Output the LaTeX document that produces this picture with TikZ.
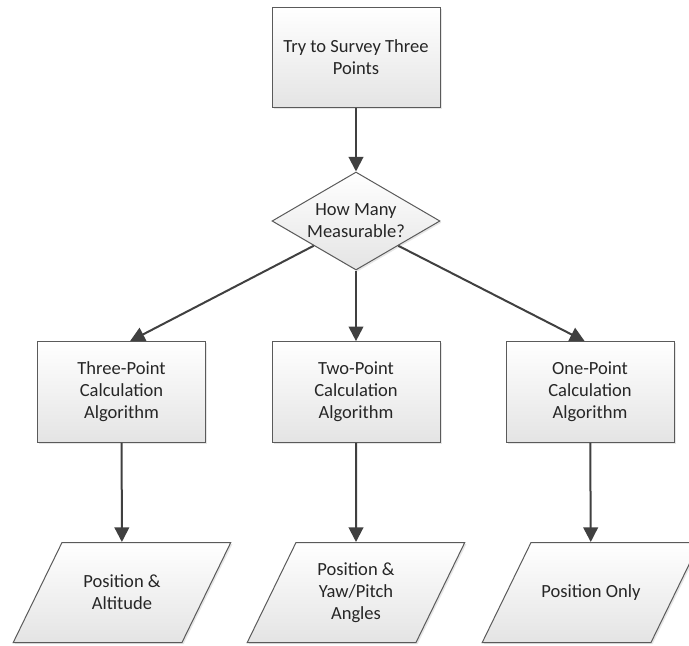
\documentclass[tikz,border=0pt]{standalone}
\usepackage{fontspec}
\setmainfont{Carlito}
\usepackage{xcolor}
\usetikzlibrary{shapes.geometric,arrows.meta,shadows}
\definecolor{boxline}{HTML}{5A5A5A}
\definecolor{boxfill}{HTML}{E4E4E4}
\definecolor{flowline}{HTML}{404040}
\definecolor{txt}{HTML}{262626}
\begin{document}
\begin{tikzpicture}[x=0.75pt,y=-0.75pt,
  base/.style={draw=boxline, line width=0.75pt, top color=white, bottom color=boxfill,
    drop shadow={opacity=0.2, shadow xshift=1.2pt, shadow yshift=-1.2pt},
    text=txt, font=\fontsize{13.9}{16.5}\selectfont},
  box/.style={base, minimum width=126pt, minimum height=75.5pt, align=center, inner sep=2pt},
  decision/.style={base, diamond, aspect=1.7, minimum width=126pt, minimum height=73.5pt,
    align=center, inner sep=0pt},
  data/.style={base, trapezium, trapezium left angle=64, trapezium right angle=116, inner sep=2pt,
    execute at begin node={\begin{minipage}[c][71pt][c]{86pt}\centering},
    execute at end node={\end{minipage}}},
  flow/.style={draw=flowline, line width=1.5pt, -{Triangle[length=11pt,width=11pt]}}]
\useasboundingbox (0,0) rectangle (689,646);
\node[box](try) at (356,57.5){Try to Survey Three\\Points};
\node[decision](q) at (356,221){How Many\\Measurable?};
\node[box](tl) at (121.5,392){Three-Point\\Calculation\\Algorithm};
\node[box](tm) at (356,392){Two-Point\\Calculation\\Algorithm};
\node[box](tr) at (590,392){One-Point\\Calculation\\Algorithm};
\node[data](ol) at (122,592.5){Position \&\\Altitude};
\node[data](om) at (356,592.5){Position \&\\Yaw/Pitch\\Angles};
\node[data](or) at (591,592.5){Position Only};
\draw[flow] (try) -- (q);
\draw[flow] (q.south west) -- ([xshift=6.4pt]tl.north);
\draw[flow] (q) -- (tm);
\draw[flow] (q.south east) -- ([xshift=-4pt]tr.north);
\draw[flow] (tl) -- (ol);
\draw[flow] (tm) -- (om);
\draw[flow] (tr) -- (or);
\end{tikzpicture}
\end{document}
